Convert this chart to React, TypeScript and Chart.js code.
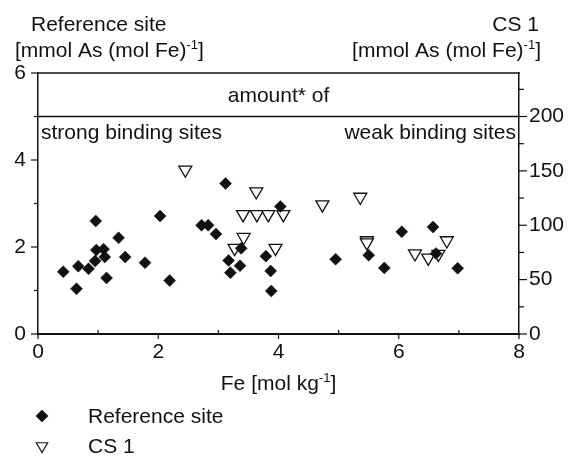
import React, { useEffect, useRef } from 'react';
import { Chart, registerables } from 'chart.js';
import { drawPoint } from 'chart.js/helpers';

Chart.register(...registerables);

// Reference site: Fe [mol kg-1] vs As [mmol As (mol Fe)-1] (left axis)
const REF_FE = [0.42, 0.64, 0.67, 0.84, 0.96, 0.97, 1.09, 1.11, 0.95, 1.14, 1.34, 1.45, 1.78, 2.03, 2.19, 2.72, 2.83, 2.96, 3.12, 3.17, 3.20, 3.38, 3.36, 3.79, 3.87, 3.88, 4.03, 4.95, 5.50, 5.76, 6.05, 6.57, 6.62, 6.98];
const REF_AS = [1.43, 1.04, 1.56, 1.50, 2.60, 1.93, 1.95, 1.77, 1.68, 1.29, 2.21, 1.77, 1.64, 2.71, 1.23, 2.50, 2.50, 2.30, 3.46, 1.69, 1.41, 1.97, 1.57, 1.79, 1.45, 0.99, 2.93, 1.72, 1.81, 1.52, 2.35, 2.46, 1.85, 1.51];

// CS 1: Fe [mol kg-1] vs As [mmol As (mol Fe)-1] (right axis)
const CS1_FE = [2.45, 3.63, 3.41, 3.64, 3.83, 4.08, 3.42, 3.27, 3.95, 4.73, 5.36, 5.47, 5.47, 6.27, 6.49, 6.66, 6.80];
const CS1_AS = [151, 131, 110, 110, 110, 110, 89, 79, 79, 119, 126, 86, 84, 74, 70, 73.5, 86];

const SERIES_LABELS = ['Reference site', 'CS 1'];

const X_TICKS = [0, 2, 4, 6, 8];
const X_MINOR = [1, 3, 5, 7];
const Y_TICKS = [0, 2, 4, 6];
const Y_MINOR = [1, 3, 5];
const Y2_TICKS = [0, 50, 100, 150, 200];
const Y2_MINOR = [25, 75, 125, 175, 225];
const DIVIDER_LEFT = 5;

const FONT = '"Liberation Sans", Arial, sans-serif';
const FS = 21;
const INK = '#111';

type Seg = { t: string; sup?: boolean };

function drawRich(ctx: CanvasRenderingContext2D, segs: Seg[], x: number, y: number, align: 'left' | 'right' | 'center', size: number) {
  const supSize = Math.round(size * 0.62);
  const widths = segs.map((s) => {
    ctx.font = `${s.sup ? supSize : size}px ${FONT}`;
    return ctx.measureText(s.t).width;
  });
  const total = widths.reduce((a, b) => a + b, 0);
  let cx = align === 'left' ? x : align === 'right' ? x - total : x - total / 2;
  ctx.textAlign = 'left';
  ctx.textBaseline = 'alphabetic';
  segs.forEach((s, i) => {
    ctx.font = `${s.sup ? supSize : size}px ${FONT}`;
    ctx.fillText(s.t, cx, s.sup ? y - size * 0.38 : y);
    cx += widths[i];
  });
}

const decorations = {
  id: 'decorations',
  afterDraw(chart: any) {
    const { ctx, chartArea: a, scales } = chart;
    const xs = scales.x, ys = scales.y, y2s = scales.y2;
    ctx.save();
    ctx.strokeStyle = INK;
    ctx.fillStyle = INK;
    const line = (x1: number, y1: number, x2: number, y2: number, w: number) => {
      ctx.lineWidth = w;
      ctx.beginPath();
      ctx.moveTo(x1, y1);
      ctx.lineTo(x2, y2);
      ctx.stroke();
    };
    // frame top & divider
    line(a.left - 0.75, a.top, a.right + 0.75, a.top, 1.5);
    const yd = ys.getPixelForValue(DIVIDER_LEFT);
    line(a.left, yd, a.right, yd, 1.4);

    // tick marks
    Y_TICKS.forEach((v) => { const p = ys.getPixelForValue(v); line(a.left - 7, p, a.left, p, 1.2); });
    Y_MINOR.forEach((v) => { const p = ys.getPixelForValue(v); line(a.left - 4, p, a.left, p, 1.2); });
    Y2_TICKS.forEach((v) => { const p = y2s.getPixelForValue(v); line(a.right, p, a.right + 8, p, 1.2); });
    Y2_MINOR.forEach((v) => { const p = y2s.getPixelForValue(v); line(a.right, p, a.right + 5, p, 1.2); });
    X_TICKS.forEach((v) => { const p = xs.getPixelForValue(v); line(p, a.bottom, p, a.bottom + 5, 1.2); });
    X_MINOR.forEach((v) => { const p = xs.getPixelForValue(v); line(p, a.bottom, p, a.bottom - 4, 1.2); });

    // in-plot texts
    ctx.font = `${FS}px ${FONT}`;
    ctx.textBaseline = 'middle';
    ctx.textAlign = 'center';
    ctx.fillText('amount* of', (a.left + a.right) / 2, (a.top + yd) / 2 + 1);
    ctx.textAlign = 'left';
    ctx.fillText('strong binding sites', a.left + 3, yd + 17);
    ctx.textAlign = 'right';
    ctx.fillText('weak binding sites', a.right - 3, yd + 17);

    // axis titles
    drawRich(ctx, [{ t: 'Reference site' }], 31, 31, 'left', FS);
    drawRich(ctx, [{ t: '[mmol As (mol Fe)' }, { t: '-1', sup: true }, { t: ']' }], 15, 57, 'left', FS);
    drawRich(ctx, [{ t: 'CS 1' }], 539, 31, 'right', FS);
    drawRich(ctx, [{ t: '[mmol As (mol Fe)' }, { t: '-1', sup: true }, { t: ']' }], 541, 57, 'right', FS);
    drawRich(ctx, [{ t: 'Fe [mol kg' }, { t: '-1', sup: true }, { t: ']' }], (a.left + a.right) / 2, 390, 'center', FS);

    // legend
    const rows = [416, 446];
    chart.data.datasets.forEach((ds: any, i: number) => {
      const yy = rows[i];
      ctx.save();
      ctx.fillStyle = ds.backgroundColor;
      ctx.strokeStyle = ds.borderColor;
      drawPoint(ctx, {
        pointStyle: ds.pointStyle,
        rotation: ds.rotation || 0,
        radius: i === 0 ? 5.5 : 6.5,
        borderWidth: ds.borderWidth,
      } as any, 42, yy);
      ctx.restore();
      ctx.fillStyle = INK;
      ctx.font = `${FS}px ${FONT}`;
      ctx.textAlign = 'left';
      ctx.textBaseline = 'middle';
      ctx.fillText(ds.label, 88, yy + 1);
    });
    ctx.restore();
  },
};

export default function App() {
  const ref = useRef<HTMLCanvasElement | null>(null);
  useEffect(() => {
    if (!ref.current) return;
    const tickFont = { family: FONT, size: FS };
    const chart = new Chart(ref.current, {
      type: 'scatter',
      data: {
        datasets: [
          {
            label: SERIES_LABELS[0],
            data: REF_FE.map((x, i) => ({ x, y: REF_AS[i] })),
            yAxisID: 'y',
            pointStyle: 'rectRot',
            pointRadius: 6,
            backgroundColor: INK,
            borderColor: INK,
            borderWidth: 0.5,
          } as any,
          {
            label: SERIES_LABELS[1],
            data: CS1_FE.map((x, i) => ({ x, y: CS1_AS[i] })),
            yAxisID: 'y2',
            pointStyle: 'triangle',
            rotation: 180,
            pointRadius: 7.5,
            backgroundColor: '#ffffff',
            borderColor: INK,
            borderWidth: 1.3,
          } as any,
        ],
      },
      options: {
        responsive: false,
        animation: false,
        layout: { padding: { top: 73, left: 0, right: 0, bottom: 0 } },
        plugins: { legend: { display: false }, tooltip: { enabled: false } },
        scales: {
          x: {
            type: 'linear',
            position: 'bottom',
            min: 0,
            max: 8,
            afterBuildTicks: (s: any) => { s.ticks = X_TICKS.map((v) => ({ value: v })); },
            afterFit: (s: any) => { s.height = 128; },
            ticks: { font: tickFont, color: INK, padding: 6, maxRotation: 0 },
            grid: { display: true, drawOnChartArea: false, drawTicks: false },
            border: { display: true, color: INK, width: 2 },
          },
          y: {
            type: 'linear',
            position: 'left',
            min: 0,
            max: 6,
            afterBuildTicks: (s: any) => { s.ticks = Y_TICKS.map((v) => ({ value: v })); },
            afterFit: (s: any) => { s.width = 38; },
            ticks: { font: tickFont, color: INK, padding: 12 },
            grid: { display: true, drawOnChartArea: false, drawTicks: false },
            border: { display: true, color: INK, width: 1.5 },
          },
          y2: {
            type: 'linear',
            position: 'right',
            min: 0,
            max: 240,
            afterBuildTicks: (s: any) => { s.ticks = Y2_TICKS.map((v) => ({ value: v })); },
            afterFit: (s: any) => { s.width = 57; },
            ticks: { font: tickFont, color: INK, padding: 10 },
            grid: { display: true, drawOnChartArea: false, drawTicks: false },
            border: { display: true, color: INK, width: 1.5 },
          },
        },
      },
      plugins: [decorations],
    });
    return () => chart.destroy();
  }, []);
  return (
    <div style={{ position: 'fixed', left: 0, top: 0, width: 576, height: 462, background: '#fff' }}>
      <canvas ref={ref} width={576} height={462} style={{ display: 'block', width: 576, height: 462 }} />
    </div>
  );
}
